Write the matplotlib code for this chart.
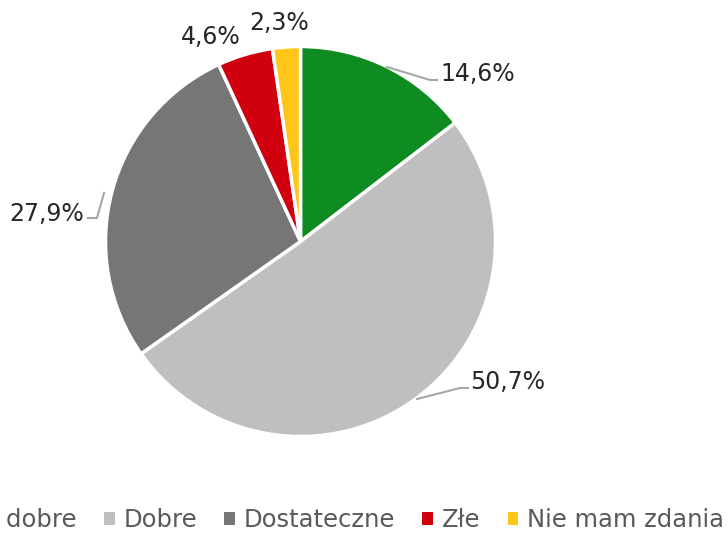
import matplotlib
matplotlib.use("Agg")
import matplotlib.pyplot as plt
from matplotlib.patches import Patch

categories = ["Bardzo dobre", "Dobre", "Dostateczne", "Złe", "Nie mam zdania"]
values = [14.6, 50.7, 27.9, 4.6, 2.3]
labels = ["14,6%", "50,7%", "27,9%", "4,6%", "2,3%"]
colors = ["#0E8C22", "#BFBFBF", "#767676", "#D0000F", "#FFC61A"]

plt.rcParams['font.family'] = ['DejaVu Sans']
W, H = 728, 534
fig = plt.figure(figsize=(W / 100, H / 100), dpi=100)
ax = fig.add_axes([0, 0, 1, 1])

cx, cy, r = 300.5, H - 241.5, 195
wedges, _ = ax.pie(values, colors=colors, startangle=90, counterclock=False,
                   center=(cx, cy), radius=r, frame=True,
                   wedgeprops=dict(edgecolor='white', linewidth=2.5))
ax.set_xlim(0, W)
ax.set_ylim(0, H)
ax.set_aspect('equal')
ax.axis('off')

lc = "#A6A6A6"
tc = "#262626"
fs = 17
# 14,6%
ax.plot([387, 430, 437], [H - 67, H - 80, H - 80], color=lc, lw=1.5)
ax.text(440, H - 74, labels[0], ha='left', va='center', fontsize=fs, color=tc)
# 50,7%
ax.plot([417, 460, 468], [H - 399, H - 388, H - 388], color=lc, lw=1.5)
ax.text(470, H - 382, labels[1], ha='left', va='center', fontsize=fs, color=tc)
# 27,9%
ax.plot([104, 97, 88], [H - 193, H - 218, H - 218], color=lc, lw=1.5)
ax.text(84, H - 214, labels[2], ha='right', va='center', fontsize=fs, color=tc)
# 4,6%
ax.text(211, H - 37, labels[3], ha='center', va='center', fontsize=fs, color=tc)
# 2,3%
ax.text(279, H - 23, labels[4], ha='center', va='center', fontsize=fs, color=tc)

handles = [Patch(facecolor=c, edgecolor='none') for c in colors]
leg = fig.legend(handles, categories, loc='center right', bbox_to_anchor=(724 / W, 1 - 520 / H),
                 ncol=5, frameon=False, fontsize=17.5, handlelength=0.45, handleheight=0.45,
                 handletextpad=0.35, columnspacing=1.12, borderaxespad=0, borderpad=0)
for t in leg.get_texts():
    t.set_color("#595959")

fig.savefig("out.png", dpi=100, facecolor='white')
